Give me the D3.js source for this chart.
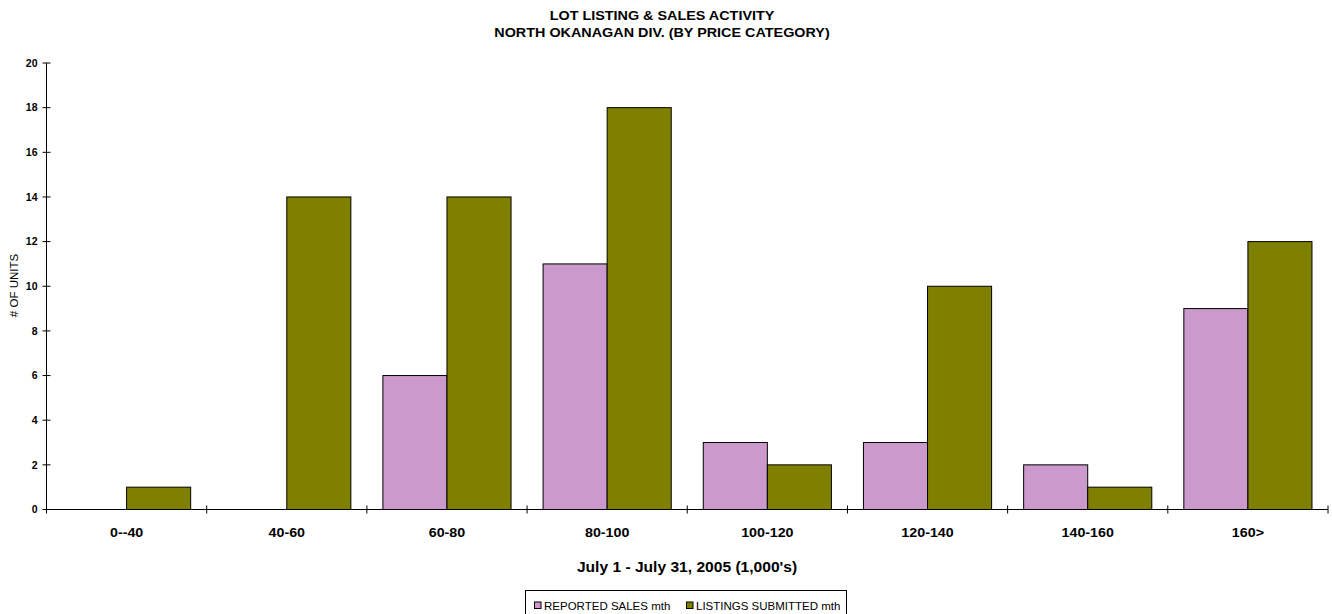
<!DOCTYPE html>
<html>
<head>
<meta charset="utf-8">
<script src="https://cdn.jsdelivr.net/npm/d3@7"></script>
<style>
  body { margin: 0; background: #fff; }
  svg { font-family: Arial, "Liberation Sans", sans-serif; }
</style>
</head>
<body>
<script>
const categories = ['0--40', '40-60', '60-80', '80-100', '100-120', '120-140', '140-160', '160>'];
const reportedSales = [0, 0, 6, 11, 3, 3, 2, 9];
const listingsSubmitted = [1, 14, 14, 18, 2, 10, 1, 12];
const seriesNames = ['REPORTED SALES mth', 'LISTINGS SUBMITTED mth'];
const seriesColors = ['#CC99CC', '#808000'];
const yTicks = [0, 2, 4, 6, 8, 10, 12, 14, 16, 18, 20];

const width = 1332, height = 614;
const plotLeft = 46.5, plotRight = 1328, plotTop = 63, plotBottom = 509.5;

const rows = categories.map((c, i) => ({cat: c, vals: [reportedSales[i], listingsSubmitted[i]]}));

const svg = d3.select('body')
    .append('svg')
    .attr('width', width)
    .attr('height', height);

// the original text looks a bit stretched sideways, so scale x a little
function wideText(sel, x, y, sx) {
    return sel.append('text')
        .attr('transform', 'translate(' + x + ',' + y + ') scale(' + sx + ',1)');
}

const xScale = d3.scaleBand()
    .domain(categories)
    .range([plotLeft, plotRight])
    .paddingInner(0.2)
    .paddingOuter(0.1);

const xSub = d3.scaleBand()
    .domain(d3.range(2))
    .range([0, xScale.bandwidth()]);

const yScale = d3.scaleLinear()
    .domain([0, 20])
    .range([plotBottom, plotTop]);

// bars
const groups = svg.selectAll('g.cat')
    .data(rows)
    .enter()
    .append('g')
    .attr('class', 'cat')
    .attr('transform', d => 'translate(' + xScale(d.cat) + ',0)');

groups.selectAll('rect')
    .data(d => d.vals.map((v, j) => ({v: v, j: j})).filter(e => e.v > 0))
    .enter()
    .append('rect')
    .attr('x', d => xSub(d.j))
    .attr('width', xSub.bandwidth())
    .attr('y', d => yScale(d.v))
    .attr('height', d => yScale(0) - yScale(d.v))
    .attr('fill', d => seriesColors[d.j])
    .attr('stroke', '#000')
    .attr('stroke-width', 1);

// y axis
const yAxis = svg.append('g');
yAxis.append('line')
    .attr('x1', plotLeft).attr('x2', plotLeft)
    .attr('y1', yScale(20)).attr('y2', yScale(0))
    .attr('stroke', '#000');
yAxis.selectAll('line.tk')
    .data(yTicks)
    .enter()
    .append('line')
    .attr('class', 'tk')
    .attr('x1', plotLeft - 4).attr('x2', plotLeft + 4)
    .attr('y1', d => yScale(d)).attr('y2', d => yScale(d))
    .attr('stroke', '#000');
yAxis.selectAll('text')
    .data(yTicks)
    .enter()
    .append('text')
    .attr('x', plotLeft - 9)
    .attr('y', d => yScale(d) + 3.8)
    .attr('text-anchor', 'end')
    .attr('font-size', 10.5)
    .attr('font-weight', 'bold')
    .text(d => d);

// x axis, tick marks sit between categories
const xEdges = d3.range(categories.length + 1).map(i => plotLeft + i * (plotRight - plotLeft) / categories.length);
const xAxis = svg.append('g');
xAxis.append('line')
    .attr('x1', plotLeft).attr('x2', plotRight)
    .attr('y1', plotBottom).attr('y2', plotBottom)
    .attr('stroke', '#000');
xAxis.selectAll('line.tk')
    .data(xEdges)
    .enter()
    .append('line')
    .attr('class', 'tk')
    .attr('x1', d => d).attr('x2', d => d)
    .attr('y1', plotBottom - 4).attr('y2', plotBottom + 4)
    .attr('stroke', '#000');
categories.forEach(c => {
    wideText(xAxis, xScale(c) + xScale.bandwidth() / 2, 536.5, 1.19)
        .attr('text-anchor', 'middle')
        .attr('font-size', 12)
        .attr('font-weight', 'bold')
        .text(c);
});

// titles
wideText(svg, 662, 19.5, 1.15)
    .attr('text-anchor', 'middle')
    .attr('font-size', 12.5)
    .attr('font-weight', 'bold')
    .text('LOT LISTING & SALES ACTIVITY');
wideText(svg, 662, 37, 1.15)
    .attr('text-anchor', 'middle')
    .attr('font-size', 12.5)
    .attr('font-weight', 'bold')
    .text('NORTH OKANAGAN DIV. (BY PRICE CATEGORY)');

wideText(svg, 687, 572, 1.075)
    .attr('text-anchor', 'middle')
    .attr('font-size', 14.5)
    .attr('font-weight', 'bold')
    .text("July 1 - July 31, 2005 (1,000's)");

svg.append('text')
    .attr('transform', 'translate(17.5,285.5) rotate(-90)')
    .attr('text-anchor', 'middle')
    .attr('font-size', 11.5)
    .text('# OF UNITS');

// legend
const legend = svg.append('g');
legend.append('rect')
    .attr('x', 525.5).attr('y', 590.5)
    .attr('width', 321).attr('height', 30)
    .attr('fill', '#fff')
    .attr('stroke', '#000');
const legendX = [534, 686];
seriesNames.forEach((name, i) => {
    legend.append('rect')
        .attr('x', legendX[i] + 0.5).attr('y', 602)
        .attr('width', 6.5).attr('height', 6.5)
        .attr('fill', seriesColors[i])
        .attr('stroke', '#000');
    legend.append('text')
        .attr('x', legendX[i] + 10).attr('y', 610)
        .attr('font-size', 11.5)
        .text(name);
});
</script>
</body>
</html>
